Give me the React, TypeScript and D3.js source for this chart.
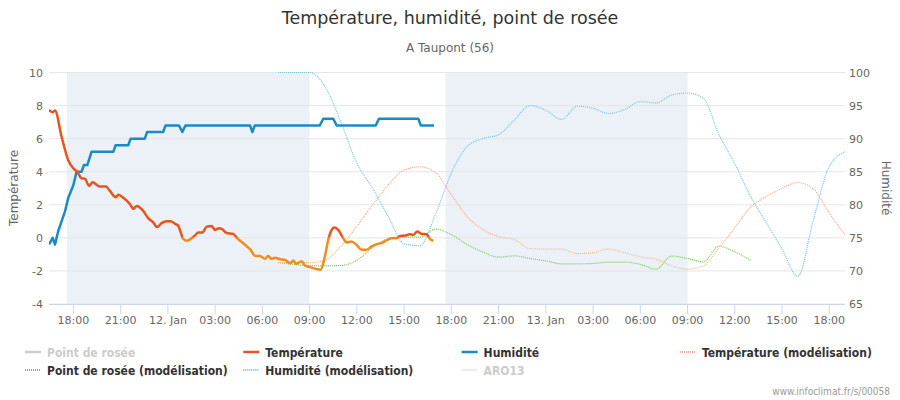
import React from "react";
import * as d3 from "d3";

const obsTempTimes = ["2025-01-11T16:27","2025-01-11T16:41","2025-01-11T16:50","2025-01-11T17:15","2025-01-11T17:40","2025-01-11T18:00","2025-01-11T18:14","2025-01-11T18:31","2025-01-11T18:44","2025-01-11T19:00","2025-01-11T19:13","2025-01-11T19:41","2025-01-11T20:04","2025-01-11T20:19","2025-01-11T20:42","2025-01-11T20:51","2025-01-11T21:12","2025-01-11T21:35","2025-01-11T21:48","2025-01-11T22:01","2025-01-11T22:26","2025-01-11T22:45","2025-01-11T23:04","2025-01-11T23:19","2025-01-11T23:36","2025-01-11T23:55","2025-01-12T00:10","2025-01-12T00:27","2025-01-12T00:39","2025-01-12T00:48","2025-01-12T00:58","2025-01-12T01:14","2025-01-12T01:27","2025-01-12T01:43","2025-01-12T01:56","2025-01-12T02:11","2025-01-12T02:28","2025-01-12T02:47","2025-01-12T02:59","2025-01-12T03:14","2025-01-12T03:25","2025-01-12T03:44","2025-01-12T04:09","2025-01-12T04:24","2025-01-12T04:54","2025-01-12T05:15","2025-01-12T05:32","2025-01-12T05:51","2025-01-12T06:10","2025-01-12T06:22","2025-01-12T06:35","2025-01-12T06:48","2025-01-12T07:07","2025-01-12T07:26","2025-01-12T07:45","2025-01-12T07:58","2025-01-12T08:08","2025-01-12T08:30","2025-01-12T08:42","2025-01-12T09:01","2025-01-12T09:42","2025-01-12T09:58","2025-01-12T10:11","2025-01-12T10:24","2025-01-12T10:34","2025-01-12T10:49","2025-01-12T11:08","2025-01-12T11:21","2025-01-12T11:40","2025-01-12T11:59","2025-01-12T12:18","2025-01-12T12:37","2025-01-12T12:56","2025-01-12T13:15","2025-01-12T13:34","2025-01-12T13:56","2025-01-12T14:13","2025-01-12T14:32","2025-01-12T14:44","2025-01-12T15:07","2025-01-12T15:20","2025-01-12T15:35","2025-01-12T15:50","2025-01-12T16:07","2025-01-12T16:26","2025-01-12T16:36","2025-01-12T16:51"];
const obsTempValues = [7.73,7.6,7.7,6.12,4.7,4.2,4.0,3.6,3.57,3.14,3.36,3.1,3.1,2.84,2.46,2.6,2.4,2.05,1.75,1.93,1.63,1.19,0.93,0.65,0.89,1.01,1.0,0.85,0.74,0.38,-0.06,-0.18,-0.06,0.14,0.32,0.32,0.68,0.72,0.48,0.58,0.54,0.29,0.24,-0.02,-0.42,-0.72,-1.09,-1.09,-1.27,-1.09,-1.27,-1.2,-1.29,-1.33,-1.53,-1.37,-1.57,-1.41,-1.67,-1.77,-1.93,-1.13,-0.12,0.48,0.62,0.48,-0.02,-0.28,-0.22,-0.42,-0.72,-0.72,-0.52,-0.38,-0.32,-0.12,-0.02,-0.02,0.12,0.14,0.22,0.18,0.38,0.24,0.22,-0.02,-0.18];

const obsHumTimes = ["2025-01-11T16:27","2025-01-11T16:41","2025-01-11T16:50","2025-01-11T17:02","2025-01-11T17:28","2025-01-11T17:40","2025-01-11T18:00","2025-01-11T18:12","2025-01-11T18:31","2025-01-11T18:40","2025-01-11T18:53","2025-01-11T19:09","2025-01-11T20:32","2025-01-11T20:41","2025-01-11T21:29","2025-01-11T21:38","2025-01-11T22:32","2025-01-11T22:41","2025-01-11T23:42","2025-01-11T23:51","2025-01-12T00:42","2025-01-12T00:55","2025-01-12T01:07","2025-01-12T05:13","2025-01-12T05:22","2025-01-12T05:31","2025-01-12T09:39","2025-01-12T09:52","2025-01-12T10:30","2025-01-12T10:43","2025-01-12T13:12","2025-01-12T13:24","2025-01-12T15:54","2025-01-12T16:04","2025-01-12T16:54"];
const obsHumValues = [74,75,74,76,79,81,83,85,85,86,86,88,88,89,89,90,90,91,91,92,92,91,92,92,91,92,92,93,93,92,92,93,93,92,92];

const modelStart = "2025-01-12T07:00";
const modelTempValues = [-1.5,-1.5,-1.5,-1.35,-0.5,0.7,2.0,3.2,4.1,4.3,3.95,2.6,1.3,0.5,0.08,-0.1,-0.65,-0.68,-0.68,-0.95,-0.9,-0.68,-0.9,-1.15,-1.29,-1.7,-1.89,-1.7,-0.6,0.6,1.85,2.5,3.0,3.35,2.95,1.5,0.18];
const modelDewValues = [-1.5,-1.6,-1.68,-1.69,-1.67,-1.35,-0.6,-0.05,0.04,0.04,0.53,0.2,-0.4,-0.85,-1.17,-1.09,-1.25,-1.39,-1.57,-1.57,-1.55,-1.47,-1.47,-1.6,-1.89,-1.1,-1.25,-1.45,-0.5,-0.85,-1.35];
const modelHumValues = [100,100,100,97.8,92.4,86.3,82.5,78.2,74.1,73.8,78.6,84.8,88.8,90.0,90.6,92.8,95.0,94.3,92.9,94.9,94.6,93.8,94.4,95.6,95.4,96.6,96.9,96.1,90.6,86.2,81.3,77.3,73.3,69.2,77.8,85.8,88.0];

const nightBands = [["2025-01-11T17:35","2025-01-12T09:00"],["2025-01-12T17:38","2025-01-13T09:00"]];
const xDomain = ["2025-01-11T16:27","2025-01-13T19:00"];
const tempTicks = [-4,-2,0,2,4,6,8,10];
const humTicks = [65,70,75,80,85,90,95,100];

const legendItems = [
  { name: "Point de rosée", color: "#cccccc", dash: "", hidden: true },
  { name: "Température", color: "#e8541c", dash: "", hidden: false },
  { name: "Humidité", color: "#1a8ac6", dash: "", hidden: false },
  { name: "Température (modélisation)", color: "#f5a98c", dash: "1,1", hidden: false },
  { name: "Point de rosée (modélisation)", color: "#6cc24a", dash: "1,1", hidden: false },
  { name: "Humidité (modélisation)", color: "#74c3e6", dash: "1,1", hidden: false },
  { name: "ARO13", color: "#eeeeee", dash: "", hidden: true },
];

const parse = d3.timeParse("%Y-%m-%dT%H:%M");

export default function App() {
  const W = 900, H = 400;
  const L = 49, R = 845, T = 72.5, B = 304;
  const x = d3.scaleTime().domain(xDomain.map((s) => parse(s) as Date)).range([L, R]);
  const yT = d3.scaleLinear().domain([-4, 10]).range([B, T]);
  const yH = d3.scaleLinear().domain([65, 100]).range([B, T]);

  const obsT = obsTempTimes.map((t, i) => ({ d: parse(t) as Date, v: obsTempValues[i] }));
  const obsH = obsHumTimes.map((t, i) => ({ d: parse(t) as Date, v: obsHumValues[i] }));
  const mStart = parse(modelStart) as Date;
  const mTimes = d3.timeHour.range(mStart, d3.timeHour.offset(mStart, modelTempValues.length));
  const modT = modelTempValues.map((v, i) => ({ d: mTimes[i], v }));
  const modD = modelDewValues.map((v, i) => ({ d: mTimes[i], v }));
  const modH = modelHumValues.map((v, i) => ({ d: mTimes[i], v }));

  const lineT = d3.line<{ d: Date; v: number }>().x((p) => x(p.d)).y((p) => yT(p.v)).curve(d3.curveMonotoneX);
  const lineH = d3.line<{ d: Date; v: number }>().x((p) => x(p.d)).y((p) => yH(p.v));
  const lineHs = d3.line<{ d: Date; v: number }>().x((p) => x(p.d)).y((p) => yH(p.v)).curve(d3.curveMonotoneX);

  const xTicks = d3.timeHour.every(3)!.range(x.domain()[0], d3.timeMinute.offset(x.domain()[1], 1));
  const fmt = (d: Date) =>
    d.getHours() === 0 ? d3.timeFormat("%-d. ")(d) + "Jan" : d3.timeFormat("%H:%M")(d);

  const font = "'DejaVu Sans', Verdana, sans-serif";
  const y0 = yT(0);

  return (
    <svg width={W} height={H} style={{ display: "block", position: "absolute", left: 0, top: 0 }} fontFamily={font}>
      <defs>
        <clipPath id="above"><rect x={L} y={0} width={R - L} height={y0} /></clipPath>
        <clipPath id="below"><rect x={L} y={y0} width={R - L} height={H - y0} /></clipPath>
        <clipPath id="plot"><rect x={L} y={T - 2} width={R - L} height={B - T + 4} /></clipPath>
      </defs>
      <rect width={W} height={H} fill="#ffffff" />
      <text x={450} y={24} textAnchor="middle" fontSize={17.5} fill="#333333">Température, humidité, point de rosée</text>
      <text x={450} y={52} textAnchor="middle" fontSize={12} fill="#666666">A Taupont (56)</text>

      {nightBands.map((b, i) => {
        const x0 = x(parse(b[0]) as Date), x1 = x(parse(b[1]) as Date);
        return <rect key={i} x={x0} y={T} width={x1 - x0} height={B - T} fill="#ecf0f7" />;
      })}
      {tempTicks.map((t) => (
        <line key={t} x1={L} x2={R} y1={yT(t)} y2={yT(t)} stroke="#e6e6e6" strokeWidth={1} />
      ))}
      <line x1={L} x2={R} y1={B + 0.5} y2={B + 0.5} stroke="#ccd6eb" />
      {xTicks.map((d, i) => (
        <g key={i}>
          <line x1={x(d)} x2={x(d)} y1={B} y2={B + 10} stroke="#ccd6eb" />
          <text x={x(d)} y={324} textAnchor="middle" fontSize={11} fill="#666666">{fmt(d)}</text>
        </g>
      ))}
      {tempTicks.map((t) => (
        <text key={t} x={43} y={yT(t) + 4} textAnchor="end" fontSize={11} fill="#666666">{t}</text>
      ))}
      {humTicks.map((t) => (
        <text key={t} x={849} y={yH(t) + 4} textAnchor="start" fontSize={11} fill="#666666">{t}</text>
      ))}
      <text transform={`translate(18,188) rotate(-90)`} textAnchor="middle" fontSize={12} fill="#666666">Température</text>
      <text transform={`translate(882,188) rotate(90)`} textAnchor="middle" fontSize={12} fill="#666666">Humidité</text>

      <g clipPath="url(#plot)" fill="none">
        <path d={lineHs(modH) || ""} stroke="#74c3e6" strokeWidth={1.2} strokeDasharray="1,1" />
        <path d={lineT(modD) || ""} stroke="#7cc95a" strokeWidth={1.2} strokeDasharray="1,1" />
        <g clipPath="url(#above)">
          <path d={lineT(modT) || ""} stroke="#f5a98c" strokeWidth={1.2} strokeDasharray="1,1" />
        </g>
        <g clipPath="url(#below)">
          <path d={lineT(modT) || ""} stroke="#f8bd7e" strokeWidth={1.2} strokeDasharray="1,1" />
        </g>
        <path d={lineH(obsH) || ""} stroke="#1a8ac6" strokeWidth={2.5} strokeLinejoin="round" />
        <g clipPath="url(#above)">
          <path d={lineT(obsT) || ""} stroke="#e8541c" strokeWidth={2.5} strokeLinejoin="round" />
        </g>
        <g clipPath="url(#below)">
          <path d={lineT(obsT) || ""} stroke="#f28c1c" strokeWidth={2.5} strokeLinejoin="round" />
        </g>
      </g>

      {legendItems.map((it, i) => {
        const col = i < 4 ? i : i - 4;
        const row = i < 4 ? 0 : 1;
        const lx = 25 + col * 218.3;
        const ly = 352 + row * 18;
        return (
          <g key={it.name}>
            {it.dash ? (
              d3.range(0, 16, 2).map((k) => (
                <rect key={k} x={lx + k} y={ly - 1} width={1} height={2} fill={it.color} />
              ))
            ) : (
              <line x1={lx} x2={lx + 16} y1={ly} y2={ly} stroke={it.color} strokeWidth={2.5} />
            )}
            <text x={lx + 22} y={ly + 4.5} fontSize={12} fontWeight="bold" fontFamily="'DejaVu Sans Condensed', 'Liberation Sans Narrow', sans-serif" style={{ fontStretch: "condensed" }} fill={it.hidden ? "#cccccc" : "#333333"}>{it.name}</text>
          </g>
        );
      })}
      <text x={890} y={395} textAnchor="end" fontSize={10} fill="#999999" fontFamily="'DejaVu Sans Condensed', sans-serif" style={{ fontStretch: "condensed" }}>www.infoclimat.fr/s/00058</text>
    </svg>
  );
}
